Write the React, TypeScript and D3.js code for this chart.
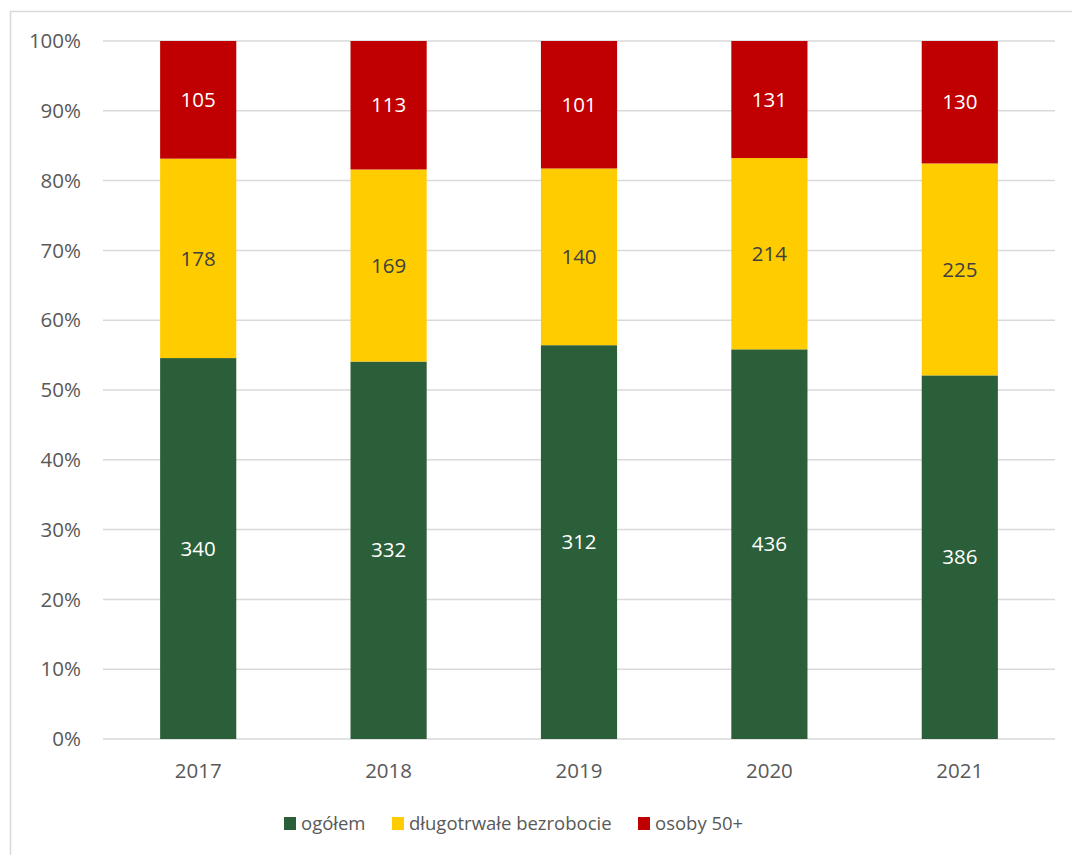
import React, { useEffect, useRef } from "react";
import * as d3 from "d3";

const years = ["2017", "2018", "2019", "2020", "2021"];
const ogolem = [340, 332, 312, 436, 386];
const dlugotrwale = [178, 169, 140, 214, 225];
const osoby50 = [105, 113, 101, 131, 130];
const seriesNames = ["ogółem", "długotrwałe bezrobocie", "osoby 50+"];
const seriesColors = ["#2b5f3a", "#ffcc00", "#c00000"];
const labelColors = ["#ffffff", "#404040", "#ffffff"];
const yTicks = [0, 0.1, 0.2, 0.3, 0.4, 0.5, 0.6, 0.7, 0.8, 0.9, 1];

const FONT = "'Open Sans', 'Noto Sans', sans-serif";
const FS_NUM = "20.5px";
const FS_LEGEND = "18.5px";

export default function App() {
  const ref = useRef<SVGSVGElement | null>(null);

  useEffect(() => {
    const width = 1072;
    const height = 855;
    const margin = { top: 41, right: 17, bottom: 116, left: 103 };
    const w = width - margin.left - margin.right;
    const h = height - margin.top - margin.bottom;

    const root = d3.select(ref.current);
    root.selectAll("*").remove();
    root.attr("width", width).attr("height", height);

    root
      .append("rect")
      .attr("x", 10.5)
      .attr("y", 11.5)
      .attr("width", 1200)
      .attr("height", 1000)
      .attr("fill", "#ffffff")
      .attr("stroke", "#d9d9d9")
      .attr("stroke-width", 1.5);

    const svg = root
      .append("g")
      .attr("transform", `translate(${margin.left},${margin.top})`);

    const rows = years.map((year, i) => ({
      year,
      values: [ogolem[i], dlugotrwale[i], osoby50[i]],
    }));

    const x = d3
      .scaleBand()
      .domain(years)
      .range([0, w])
      .paddingInner(0.6)
      .paddingOuter(0.3);
    const y = d3.scaleLinear().domain([0, 1]).range([h, 0]);

    // Gridlines
    svg
      .selectAll(".grid")
      .data(yTicks)
      .enter()
      .append("line")
      .attr("x1", 0)
      .attr("x2", w)
      .attr("y1", (d) => y(d))
      .attr("y2", (d) => y(d))
      .attr("stroke", "#d9d9d9")
      .attr("stroke-width", 1.5);

    // Y tick labels
    svg
      .selectAll(".ytick")
      .data(yTicks)
      .enter()
      .append("text")
      .attr("x", -22)
      .attr("y", (d) => y(d))
      .attr("dy", "0.35em")
      .attr("text-anchor", "end")
      .attr("fill", "#595959")
      .style("font-family", FONT)
      .style("font-size", FS_NUM)
      .text((d) => `${Math.round(d * 100)}%`);

    // Stacked bars (100%)
    rows.forEach((row) => {
      const total = d3.sum(row.values);
      let acc = 0;
      row.values.forEach((v, k) => {
        const y0 = acc / total;
        const y1 = (acc + v) / total;
        acc += v;
        const bx = x(row.year) ?? 0;
        svg
          .append("rect")
          .attr("x", bx)
          .attr("y", y(y1))
          .attr("width", x.bandwidth())
          .attr("height", y(y0) - y(y1))
          .attr("fill", seriesColors[k]);
        svg
          .append("text")
          .attr("x", bx + x.bandwidth() / 2)
          .attr("y", (y(y0) + y(y1)) / 2)
          .attr("dy", "0.35em")
          .attr("text-anchor", "middle")
          .attr("fill", labelColors[k])
          .style("font-family", FONT)
          .style("font-size", FS_NUM)
          .text(v);
      });
    });

    // X labels
    svg
      .selectAll(".xtick")
      .data(years)
      .enter()
      .append("text")
      .attr("x", (d) => (x(d) ?? 0) + x.bandwidth() / 2)
      .attr("y", h + 32)
      .attr("dy", "0.35em")
      .attr("text-anchor", "middle")
      .attr("fill", "#595959")
      .style("font-family", FONT)
      .style("font-size", FS_NUM)
      .text((d) => d);

    // Legend
    const legendX = [284, 392, 638];
    const legend = root.append("g");
    seriesNames.forEach((name, k) => {
      legend
        .append("rect")
        .attr("x", legendX[k])
        .attr("y", 817)
        .attr("width", 12)
        .attr("height", 13)
        .attr("fill", seriesColors[k]);
      legend
        .append("text")
        .attr("x", legendX[k] + 17)
        .attr("y", 823.5)
        .attr("dy", "0.35em")
        .attr("fill", "#595959")
        .style("font-family", FONT)
        .style("font-size", FS_LEGEND)
        .text(name);
    });
  }, []);

  return (
    <div style={{ position: "absolute", left: 0, top: 0 }}>
      <svg ref={ref} style={{ display: "block" }}></svg>
    </div>
  );
}
